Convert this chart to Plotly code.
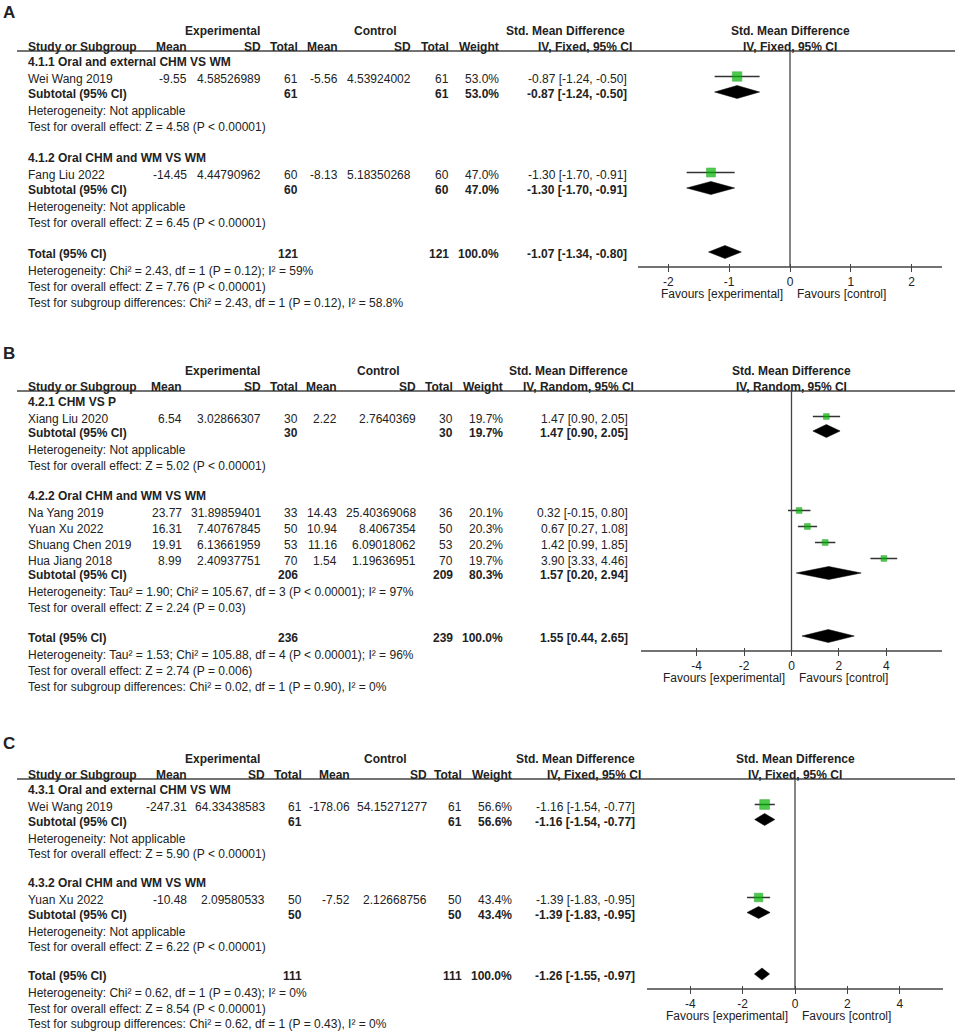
import plotly.graph_objects as go

W, H = 955, 1032
TXT = "#222222"
LINE = "#444444"
GREEN = "#00b400"
FONT = "Liberation Sans, Arial, sans-serif"

# ---------------- panel A data ----------------
a_subgroups = ["4.1.1 Oral and external CHM VS WM", "4.1.2 Oral CHM and WM VS WM"]
a_study = ["Wei Wang 2019", "Fang Liu 2022"]
a_group = [0, 1]
a_exp_mean = [-9.55, -14.45]
a_exp_sd = [4.58526989, 4.44790962]
a_exp_n = [61, 60]
a_ctl_mean = [-5.56, -8.13]
a_ctl_sd = [4.53924002, 5.18350268]
a_ctl_n = [61, 60]
a_weight = [53.0, 47.0]
a_smd = [-0.87, -1.30]
a_lo = [-1.24, -1.70]
a_hi = [-0.50, -0.91]
a_sub_smd = [-0.87, -1.30]
a_sub_lo = [-1.24, -1.70]
a_sub_hi = [-0.50, -0.91]
a_sub_exp_n = [61, 60]
a_sub_ctl_n = [61, 60]
a_sub_weight = [53.0, 47.0]
a_sub_het = ["Heterogeneity: Not applicable", "Heterogeneity: Not applicable"]
a_sub_z = ["Test for overall effect: Z = 4.58 (P < 0.00001)",
           "Test for overall effect: Z = 6.45 (P < 0.00001)"]
a_total = [-1.07, -1.34, -0.80]
a_total_n = [121, 121]
a_notes = ["Heterogeneity: Chi² = 2.43, df = 1 (P = 0.12); I² = 59%",
           "Test for overall effect: Z = 7.76 (P < 0.00001)",
           "Test for subgroup differences: Chi² = 2.43, df = 1 (P = 0.12), I² = 58.8%"]
a_method = "IV, Fixed, 95% CI"
a_ticks = [-2, -1, 0, 1, 2]

# ---------------- panel B data ----------------
b_subgroups = ["4.2.1 CHM VS P", "4.2.2 Oral CHM and WM VS WM"]
b_study = ["Xiang Liu 2020", "Na Yang 2019", "Yuan Xu 2022", "Shuang Chen 2019", "Hua Jiang 2018"]
b_group = [0, 1, 1, 1, 1]
b_exp_mean = [6.54, 23.77, 16.31, 19.91, 8.99]
b_exp_sd = [3.02866307, 31.89859401, 7.40767845, 6.13661959, 2.40937751]
b_exp_n = [30, 33, 50, 53, 70]
b_ctl_mean = [2.22, 14.43, 10.94, 11.16, 1.54]
b_ctl_sd = [2.7640369, 25.40369068, 8.4067354, 6.09018062, 1.19636951]
b_ctl_n = [30, 36, 50, 53, 70]
b_weight = [19.7, 20.1, 20.3, 20.2, 19.7]
b_smd = [1.47, 0.32, 0.67, 1.42, 3.90]
b_lo = [0.90, -0.15, 0.27, 0.99, 3.33]
b_hi = [2.05, 0.80, 1.08, 1.85, 4.46]
b_sub_smd = [1.47, 1.57]
b_sub_lo = [0.90, 0.20]
b_sub_hi = [2.05, 2.94]
b_sub_exp_n = [30, 206]
b_sub_ctl_n = [30, 209]
b_sub_weight = [19.7, 80.3]
b_sub_het = ["Heterogeneity: Not applicable",
             "Heterogeneity: Tau² = 1.90; Chi² = 105.67, df = 3 (P < 0.00001); I² = 97%"]
b_sub_z = ["Test for overall effect: Z = 5.02 (P < 0.00001)",
           "Test for overall effect: Z = 2.24 (P = 0.03)"]
b_total = [1.55, 0.44, 2.65]
b_total_n = [236, 239]
b_notes = ["Heterogeneity: Tau² = 1.53; Chi² = 105.88, df = 4 (P < 0.00001); I² = 96%",
           "Test for overall effect: Z = 2.74 (P = 0.006)",
           "Test for subgroup differences: Chi² = 0.02, df = 1 (P = 0.90), I² = 0%"]
b_method = "IV, Random, 95% CI"
b_ticks = [-4, -2, 0, 2, 4]

# ---------------- panel C data ----------------
c_subgroups = ["4.3.1 Oral and external CHM VS WM", "4.3.2 Oral CHM and WM VS WM"]
c_study = ["Wei Wang 2019", "Yuan Xu 2022"]
c_group = [0, 1]
c_exp_mean = [-247.31, -10.48]
c_exp_sd = [64.33438583, 2.09580533]
c_exp_n = [61, 50]
c_ctl_mean = [-178.06, -7.52]
c_ctl_sd = [54.15271277, 2.12668756]
c_ctl_n = [61, 50]
c_weight = [56.6, 43.4]
c_smd = [-1.16, -1.39]
c_lo = [-1.54, -1.83]
c_hi = [-0.77, -0.95]
c_sub_smd = [-1.16, -1.39]
c_sub_lo = [-1.54, -1.83]
c_sub_hi = [-0.77, -0.95]
c_sub_exp_n = [61, 50]
c_sub_ctl_n = [61, 50]
c_sub_weight = [56.6, 43.4]
c_sub_het = ["Heterogeneity: Not applicable", "Heterogeneity: Not applicable"]
c_sub_z = ["Test for overall effect: Z = 5.90 (P < 0.00001)",
           "Test for overall effect: Z = 6.22 (P < 0.00001)"]
c_total = [-1.26, -1.55, -0.97]
c_total_n = [111, 111]
c_notes = ["Heterogeneity: Chi² = 0.62, df = 1 (P = 0.43); I² = 0%",
           "Test for overall effect: Z = 8.54 (P < 0.00001)",
           "Test for subgroup differences: Chi² = 0.62, df = 1 (P = 0.43), I² = 0%"]
c_method = "IV, Fixed, 95% CI"
c_ticks = [-4, -2, 0, 2, 4]


def pack(p):
    g = globals()
    keys = ["subgroups", "study", "group", "exp_mean", "exp_sd", "exp_n", "ctl_mean", "ctl_sd",
            "ctl_n", "weight", "smd", "lo", "hi", "sub_smd", "sub_lo", "sub_hi", "sub_exp_n",
            "sub_ctl_n", "sub_weight", "sub_het", "sub_z", "total", "total_n", "notes",
            "method", "ticks"]
    return {k: g[p + "_" + k] for k in keys}


# layout (pixel positions) of each panel
panels = [
    dict(data=pack("a"), letter="A", top=0, letter_y=12, ax="x2", span=(638, 942), rng=(-2.5, 2.5),
         gap=31, sub_step=15, line_step=16, dh=6.5,
         cols=dict(mean=188, sd=262, n=299, cmean=339, csd=412, cn=450, weight=500, est=628,
                   est_head=633, exp_c=222, ctl_c=375, est_top=565)),
    dict(data=pack("b"), letter="B", top=340, letter_y=353, ax="x3", span=(641, 942), rng=(-6.35, 6.35),
         gap=30, sub_step=14, line_step=16, dh=6.5,
         cols=dict(mean=183, sd=262, n=299, cmean=338, csd=417, cn=454, weight=504, est=629,
                   est_head=635, exp_c=222, ctl_c=378, est_top=568)),
    dict(data=pack("c"), letter="C", top=728, letter_y=743, ax="x4", span=(647, 943), rng=(-5.65, 5.65),
         gap=29, sub_step=14.5, line_step=15.5, dh=6,
         cols=dict(mean=188, sd=266, n=303, cmean=351, csd=428, cn=463, weight=513, est=636,
                   est_head=642, exp_c=222, ctl_c=385, est_top=575)),
]

annotations = []
shapes = []
fig = go.Figure()


def txt(x, y, s, anchor="left", bold=False, size=12, xref="x"):
    if bold:
        s = "<b>" + s + "</b>"
    annotations.append(dict(x=x, y=y, xref=xref, yref="y", text=s, showarrow=False,
                            xanchor=anchor, yanchor="middle", borderpad=0,
                            font=dict(size=size, color=TXT, family=FONT)))


def ci_text(e, l, h):
    return f"{e:.2f} [{l:.2f}, {h:.2f}]"


axes = {}
for k, p in enumerate(panels):
    d, c, top = p["data"], p["cols"], p["top"]
    ax = p["ax"]

    txt(2, p["letter_y"], p["letter"], bold=True, size=17)

    # header
    hy1, hy2, uy = top + 30.5, top + 46.5, top + 51
    txt(c["exp_c"], hy1, "Experimental", "center", True)
    txt(c["ctl_c"], hy1, "Control", "center", True)
    txt(c["est_top"], hy1, "Std. Mean Difference", "center", True)
    txt(0, hy1, "Std. Mean Difference", "center", True, xref=ax)
    txt(27, hy2, "Study or Subgroup", "left", True)
    for key, lab in [("mean", "Mean"), ("sd", "SD"), ("n", "Total"), ("cmean", "Mean"),
                     ("csd", "SD"), ("cn", "Total"), ("weight", "Weight"), ("est_head", d["method"])]:
        txt(c[key], hy2, lab, "right", True)
    txt(0, hy2, d["method"], "center", True, xref=ax)
    shapes.append(dict(type="line", xref="x", yref="y", x0=17, x1=W, y0=uy, y1=uy,
                       line=dict(color=LINE, width=1.3)))

    ci_x, ci_y, sq_x, sq_y, sq_s, dia_x, dia_y = [], [], [], [], [], [], []

    def diamond(e, l, h, y):
        dia_x.extend([l, e, h, e, l, None])
        dia_y.extend([y, y - p["dh"], y, y + p["dh"], y, None])

    y = top + 62
    for g, name in enumerate(d["subgroups"]):
        txt(27, y, name, bold=True)
        idx = [i for i, gg in enumerate(d["group"]) if gg == g]
        y += 17
        for j, i in enumerate(idx):
            if j:
                y += 16
            txt(27, y, d["study"][i])
            txt(c["mean"], y, str(d["exp_mean"][i]), "right")
            txt(c["sd"], y, str(d["exp_sd"][i]), "right")
            txt(c["n"], y, str(d["exp_n"][i]), "right")
            txt(c["cmean"], y, str(d["ctl_mean"][i]), "right")
            txt(c["csd"], y, str(d["ctl_sd"][i]), "right")
            txt(c["cn"], y, str(d["ctl_n"][i]), "right")
            txt(c["weight"], y, f"{d['weight'][i]:.1f}%", "right")
            txt(c["est"], y, ci_text(d["smd"][i], d["lo"][i], d["hi"][i]), "right")
            ci_x.extend([d["lo"][i], d["hi"][i], None])
            ci_y.extend([y - 2.5, y - 2.5, None])
            sq_x.append(d["smd"][i])
            sq_y.append(y - 2.5)
            sq_s.append(1.3 * d["weight"][i] ** 0.5)
        y += p["sub_step"]
        txt(27, y, "Subtotal (95% CI)", bold=True)
        txt(c["n"], y, str(d["sub_exp_n"][g]), "right", True)
        txt(c["cn"], y, str(d["sub_ctl_n"][g]), "right", True)
        txt(c["weight"], y, f"{d['sub_weight'][g]:.1f}%", "right", True)
        txt(c["est"], y, ci_text(d["sub_smd"][g], d["sub_lo"][g], d["sub_hi"][g]), "right", True)
        diamond(d["sub_smd"][g], d["sub_lo"][g], d["sub_hi"][g], y - 2)
        y += 17
        txt(27, y, d["sub_het"][g])
        y += p["line_step"]
        txt(27, y, d["sub_z"][g])
        y += p["gap"]

    # total
    te, tl, th = d["total"]
    txt(27, y, "Total (95% CI)", bold=True)
    txt(c["n"], y, str(d["total_n"][0]), "right", True)
    txt(c["cn"], y, str(d["total_n"][1]), "right", True)
    txt(c["weight"], y, "100.0%", "right", True)
    txt(c["est"], y, ci_text(te, tl, th), "right", True)
    diamond(te, tl, th, y - 2)
    axis_y = y + 13
    ny = y + 17
    for note in d["notes"]:
        txt(27, ny, note)
        ny += p["line_step"]

    # favours labels
    txt(0, axis_y + 26.5, "Favours [experimental]", "right", xref=ax)
    annotations[-1]["xshift"] = -6
    txt(0, axis_y + 26.5, "Favours [control]", "left", xref=ax)
    annotations[-1]["xshift"] = 6

    # axis line and zero line
    shapes.append(dict(type="line", xref=ax, yref="y", x0=p["rng"][0], x1=p["rng"][1],
                       y0=axis_y, y1=axis_y, line=dict(color=LINE, width=1.3)))
    shapes.append(dict(type="line", xref=ax, yref="y", x0=0, x1=0, y0=uy, y1=axis_y,
                       line=dict(color=LINE, width=1.3)))

    fig.add_trace(go.Scatter(x=ci_x, y=ci_y, xaxis=ax, yaxis="y", mode="lines",
                             line=dict(color="#333333", width=1.5), hoverinfo="skip"))
    fig.add_trace(go.Scatter(x=sq_x, y=sq_y, xaxis=ax, yaxis="y", mode="markers",
                             marker=dict(symbol="square", size=sq_s, color=GREEN,
                                         line=dict(color="#008f00", width=0.6)),
                             hoverinfo="skip"))
    fig.add_trace(go.Scatter(x=dia_x, y=dia_y, xaxis=ax, yaxis="y", mode="lines", fill="toself",
                             fillcolor="black", line=dict(color="black", width=0.5),
                             hoverinfo="skip"))

    name = "xaxis" + ax[1:]
    axes[name] = dict(domain=[p["span"][0] / W, p["span"][1] / W], range=list(p["rng"]),
                      anchor="free", position=1 - (axis_y - 4) / H,
                      showline=False, showgrid=False, zeroline=False,
                      ticks="outside", ticklen=8, tickwidth=1.3, tickcolor=LINE,
                      tickvals=d["ticks"], ticktext=[str(t) for t in d["ticks"]],
                      tickfont=dict(size=12, color=TXT, family=FONT), fixedrange=True)

# invisible trace on the pixel axes
fig.add_trace(go.Scatter(x=[0], y=[0], mode="markers", marker=dict(opacity=0), hoverinfo="skip"))

fig.update_layout(
    width=W, height=H,
    margin=dict(l=0, r=0, t=0, b=0),
    paper_bgcolor="white", plot_bgcolor="rgba(0,0,0,0)",
    showlegend=False,
    font=dict(family=FONT, size=12, color=TXT),
    xaxis=dict(domain=[0, 1], range=[0, W], visible=False, fixedrange=True),
    yaxis=dict(domain=[0, 1], range=[H, 0], visible=False, fixedrange=True),
    annotations=annotations,
    shapes=shapes,
    **axes,
)

fig.write_html("out.html", config={"displayModeBar": False},
               post_script="document.body.style.margin='0';")
